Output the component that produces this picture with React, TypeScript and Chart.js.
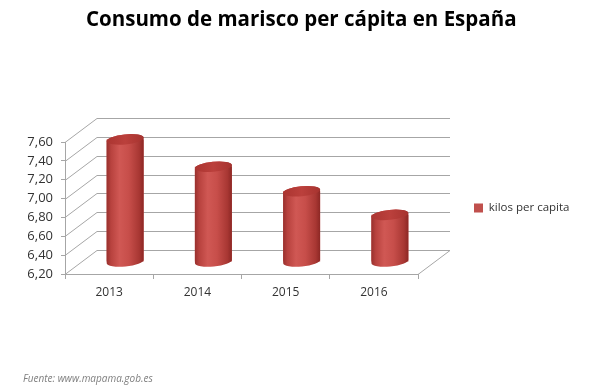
import React, { useEffect, useRef } from "react";
import { Chart, registerables } from "chart.js";

Chart.register(...registerables);

const categories = ["2013", "2014", "2015", "2016"];
const values = [7.5, 7.21, 6.95, 6.7];
const seriesLabel = "kilos per capita";
const yTicks = [6.2, 6.4, 6.6, 6.8, 7.0, 7.2, 7.4, 7.6];
const yMin = 6.2;
const yMax = 7.6;
const titleText = "Consumo de marisco per cápita en España";
const sourceText = "Fuente: www.mapama.gob.es";

const W = 605;
const H = 387;
const FONT = "'Open Sans', 'Liberation Sans', sans-serif";
const DEPTH_X = 32;
const DEPTH_Y = -24;
const GRID = "#a6a6a6";
const RED = "#c0504d";
const LEGEND_PAD = 56;
const LEGEND_FONT = 11.5;
const PLOT_RIGHT = 418;

const walls3d = {
  id: "walls3d",
  beforeDatasetsDraw(chart: any) {
    const { ctx, chartArea, scales } = chart;
    const y = scales.y;
    ctx.save();
    ctx.strokeStyle = GRID;
    ctx.lineWidth = 1;
    ctx.beginPath();
    for (const t of yTicks) {
      const py = Math.round(y.getPixelForValue(t)) + 0.5;
      ctx.moveTo(chartArea.left, py);
      ctx.lineTo(chartArea.left + DEPTH_X, py + DEPTH_Y);
      ctx.lineTo(chartArea.right + DEPTH_X, py + DEPTH_Y);
    }
    const by = Math.round(chartArea.bottom) + 0.5;
    ctx.moveTo(chartArea.right, by);
    ctx.lineTo(chartArea.right + DEPTH_X, by + DEPTH_Y);
    ctx.stroke();
    ctx.restore();
    ctx.save();
    ctx.translate(DEPTH_X / 2, DEPTH_Y / 2);
  },
  afterDatasetsDraw(chart: any) {
    const ctx = chart.ctx;
    ctx.restore();
    const meta = chart.getDatasetMeta(0);
    const ox = DEPTH_X / 2;
    const oy = DEPTH_Y / 2;
    meta.data.forEach((el: any) => {
      const { x, y, base, width } = el.getProps(["x", "y", "base", "width"], true);
      const cx = x + ox;
      const top = y + oy;
      const bot = base + oy;
      const rx = width / 2;
      const ry = 5;
      const rot = -0.1;
      const left = cx - rx;
      const right = cx + rx;
      ctx.save();
      const g = ctx.createLinearGradient(left, 0, right, 0);
      g.addColorStop(0, "#98302d");
      g.addColorStop(0.12, "#b8423e");
      g.addColorStop(0.35, "#d05854");
      g.addColorStop(0.6, "#c74e4a");
      g.addColorStop(0.88, "#a83733");
      g.addColorStop(1, "#8c2724");
      ctx.beginPath();
      ctx.ellipse(cx, bot, rx, ry, rot, 0, Math.PI, false);
      ctx.ellipse(cx, top, rx, ry, rot, Math.PI, Math.PI * 2, false);
      ctx.closePath();
      ctx.fillStyle = g;
      ctx.fill();
      const gt = ctx.createLinearGradient(left, 0, right, 0);
      gt.addColorStop(0, "#ab3531");
      gt.addColorStop(0.5, "#bb403c");
      gt.addColorStop(1, "#a6332f");
      ctx.beginPath();
      ctx.ellipse(cx, top, rx, ry, rot, 0, Math.PI * 2, false);
      ctx.fillStyle = gt;
      ctx.fill();
      ctx.restore();
    });
  },
};

export default function App() {
  const ref = useRef<HTMLCanvasElement | null>(null);

  useEffect(() => {
    const canvas = ref.current;
    if (!canvas) return;
    const m = document.createElement("canvas").getContext("2d") as CanvasRenderingContext2D;
    m.font = `${LEGEND_FONT}px ${FONT}`;
    const textW = m.measureText(seriesLabel).width;
    const legendW = LEGEND_PAD + 9 + LEGEND_FONT / 2 + textW + 10;
    const padRight = Math.max(0, W - PLOT_RIGHT - legendW);

    const chart = new Chart(canvas, {
      type: "bar",
      data: {
        labels: categories,
        datasets: [
          {
            label: seriesLabel,
            data: values,
            base: yMin,
            backgroundColor: RED,
            borderWidth: 0,
            categoryPercentage: 1,
            barPercentage: 0.42,
            clip: false as any,
          } as any,
        ],
      },
      options: {
        responsive: false,
        animation: false,
        devicePixelRatio: 1,
        layout: { padding: { left: 23, right: padRight, top: 0, bottom: 0 } },
        plugins: {
          title: {
            display: true,
            text: titleText,
            color: "#000000",
            font: { family: FONT, size: 20.5, weight: "bold" },
            padding: { top: 8, bottom: 109.4 },
          },
          subtitle: {
            display: true,
            text: sourceText,
            position: "bottom",
            align: "start",
            color: "#7f7f7f",
            font: { family: FONT, size: 10, style: "italic" },
            padding: { top: 67.6, bottom: 2 },
          },
          legend: {
            display: true,
            position: "right",
            fullSize: false,
            maxWidth: 400,
            labels: {
              boxWidth: 9,
              boxHeight: 9,
              padding: LEGEND_PAD,
              color: "#333333",
              font: { family: FONT, size: LEGEND_FONT },
            },
          },
          tooltip: { enabled: false },
        },
        scales: {
          x: {
            grid: {
              display: true,
              drawOnChartArea: false,
              drawTicks: true,
              tickLength: 5,
              color: GRID,
              offset: true,
            },
            border: { display: true, color: GRID },
            ticks: {
              color: "#333333",
              padding: 6,
              maxRotation: 0,
              autoSkip: false,
              font: { family: FONT, size: 12 },
            },
          },
          y: {
            min: yMin,
            max: yMax,
            afterFit: (s: any) => {
              s.width = 42;
            },
            grid: {
              display: true,
              drawOnChartArea: false,
              drawTicks: true,
              tickLength: 4,
              color: GRID,
            },
            border: { display: true, color: GRID },
            ticks: {
              stepSize: 0.2,
              autoSkip: false,
              color: "#333333",
              padding: 8,
              font: { family: FONT, size: 13 },
              callback: (v: any) => Number(v).toFixed(2).replace(".", ","),
            },
          },
        },
      },
      plugins: [walls3d],
    });
    return () => chart.destroy();
  }, []);

  return (
    <div style={{ position: "absolute", left: 0, top: 0, width: W, height: H, background: "#ffffff" }}>
      <canvas ref={ref} width={W} height={H} style={{ display: "block" }} />
    </div>
  );
}
